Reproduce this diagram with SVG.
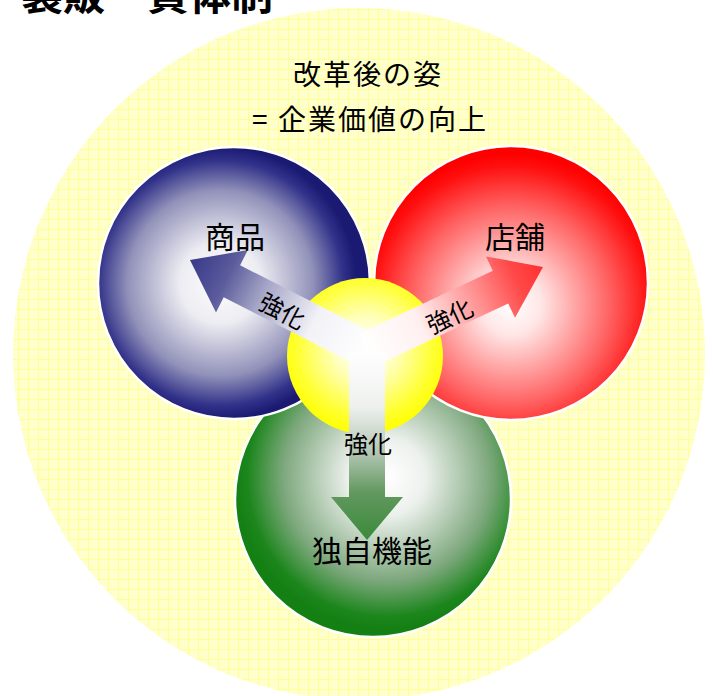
<svg xmlns="http://www.w3.org/2000/svg" width="713" height="696" viewBox="0 0 713 696">
<style>
.jp{font-family:"Noto Sans CJK JP","Noto Sans CJK SC",sans-serif;fill:#000}
.node{font-size:30px;text-anchor:middle}
.lbl{font-size:24px;text-anchor:middle}
.title{font-size:28px;text-anchor:middle;letter-spacing:2px}
.ball{stroke:#ffffff;stroke-width:2.5}
</style>
<defs>
<pattern id="grid" x="8" y="9" width="10" height="10" patternUnits="userSpaceOnUse">
<rect width="10" height="10" fill="#ffffcc"/>
<path d="M0.5 0V10M0 0.5H10" stroke="#ffff99" stroke-width="1"/>
</pattern>
<radialGradient id="gBlue" cx="0.45" cy="0.5" r="0.5">
<stop offset="0" stop-color="#ffffff"/>
<stop offset="0.3" stop-color="#ececf2"/>
<stop offset="0.68" stop-color="#9292ba"/>
<stop offset="0.9" stop-color="#32328a"/>
<stop offset="1" stop-color="#1a1a72"/>
</radialGradient>
<radialGradient id="gRed" cx="0.5" cy="0.58" r="0.55">
<stop offset="0" stop-color="#ffffff"/>
<stop offset="0.2" stop-color="#ffe6e6"/>
<stop offset="0.65" stop-color="#ff6464"/>
<stop offset="0.92" stop-color="#ff1010"/>
<stop offset="1" stop-color="#ff0000"/>
</radialGradient>
<radialGradient id="gGreen" cx="0.55" cy="0.42" r="0.55">
<stop offset="0" stop-color="#ffffff"/>
<stop offset="0.25" stop-color="#edf1ed"/>
<stop offset="0.68" stop-color="#7ea87e"/>
<stop offset="0.92" stop-color="#1c861c"/>
<stop offset="1" stop-color="#148014"/>
</radialGradient>
<radialGradient id="gYellow" cx="0.5" cy="0.45" r="0.55">
<stop offset="0" stop-color="#ffffff"/>
<stop offset="0.35" stop-color="#ffffc0"/>
<stop offset="0.8" stop-color="#ffff30"/>
<stop offset="1" stop-color="#ffff00"/>
</radialGradient>
<linearGradient id="aBlue" gradientUnits="userSpaceOnUse" x1="367" y1="350" x2="190" y2="260">
<stop offset="0" stop-color="#ffffff"/>
<stop offset="0.3" stop-color="#f2f2f7"/>
<stop offset="0.6" stop-color="#a4a4c6"/>
<stop offset="0.8" stop-color="#5a5a9c"/>
<stop offset="1" stop-color="#38388a"/>
</linearGradient>
<linearGradient id="aRed" gradientUnits="userSpaceOnUse" x1="367" y1="350" x2="543" y2="267">
<stop offset="0" stop-color="#ffffff"/>
<stop offset="0.3" stop-color="#fff0f0"/>
<stop offset="0.65" stop-color="#ff8a8a"/>
<stop offset="0.85" stop-color="#ff4848"/>
<stop offset="1" stop-color="#ff3030"/>
</linearGradient>
<linearGradient id="aGreen" gradientUnits="userSpaceOnUse" x1="367" y1="350" x2="367" y2="540">
<stop offset="0" stop-color="#ffffff"/>
<stop offset="0.3" stop-color="#eef0ee"/>
<stop offset="0.55" stop-color="#b0c4b0"/>
<stop offset="0.75" stop-color="#62985f"/>
<stop offset="1" stop-color="#3a8a3a"/>
</linearGradient>
</defs>

<g id="heading">
<text class="jp" x="21" y="10" font-size="42" font-weight="bold">製販一貫体制</text>
</g>

<g id="background">
<circle cx="359" cy="354" r="346" fill="url(#grid)"/>
<text class="jp title" x="368" y="85">改革後の姿</text>
<text class="jp title" x="370" y="130">= 企業価値の向上</text>
</g>

<g id="node-green">
<circle class="ball" cx="373" cy="499" r="138" fill="url(#gGreen)"/>
</g>
<g id="node-blue">
<circle class="ball" cx="234" cy="283" r="136" fill="url(#gBlue)"/>
</g>
<g id="node-red">
<circle class="ball" cx="511" cy="283" r="137" fill="url(#gRed)"/>
</g>
<g id="node-center">
<circle cx="365" cy="356" r="78" fill="url(#gYellow)"/>
</g>

<g id="connectors">
<polygon points="375.2,334 240.1,265.3 247.8,250.1 190,260 216,312.5 223.7,297.3 358.8,366" fill="url(#aBlue)"/>
<polygon points="359.3,333.7 492.8,270.8 486,256.4 543,267 515,317.8 508.2,303.4 374.7,366.3" fill="url(#aRed)"/>
<polygon points="349,352 349,497 331,497 367,540 403,497 385,497 385,352" fill="url(#aGreen)"/>
<text class="jp lbl" transform="translate(282,312) rotate(28)" y="8">強化</text>
<text class="jp lbl" transform="translate(450,317) rotate(-25)" y="8">強化</text>
<text class="jp lbl" x="368" y="453">強化</text>
</g>

<g id="labels">
<text class="jp node" x="235" y="248">商品</text>
<text class="jp node" x="515" y="248">店舗</text>
<text class="jp node" x="372" y="562">独自機能</text>
</g>
</svg>
